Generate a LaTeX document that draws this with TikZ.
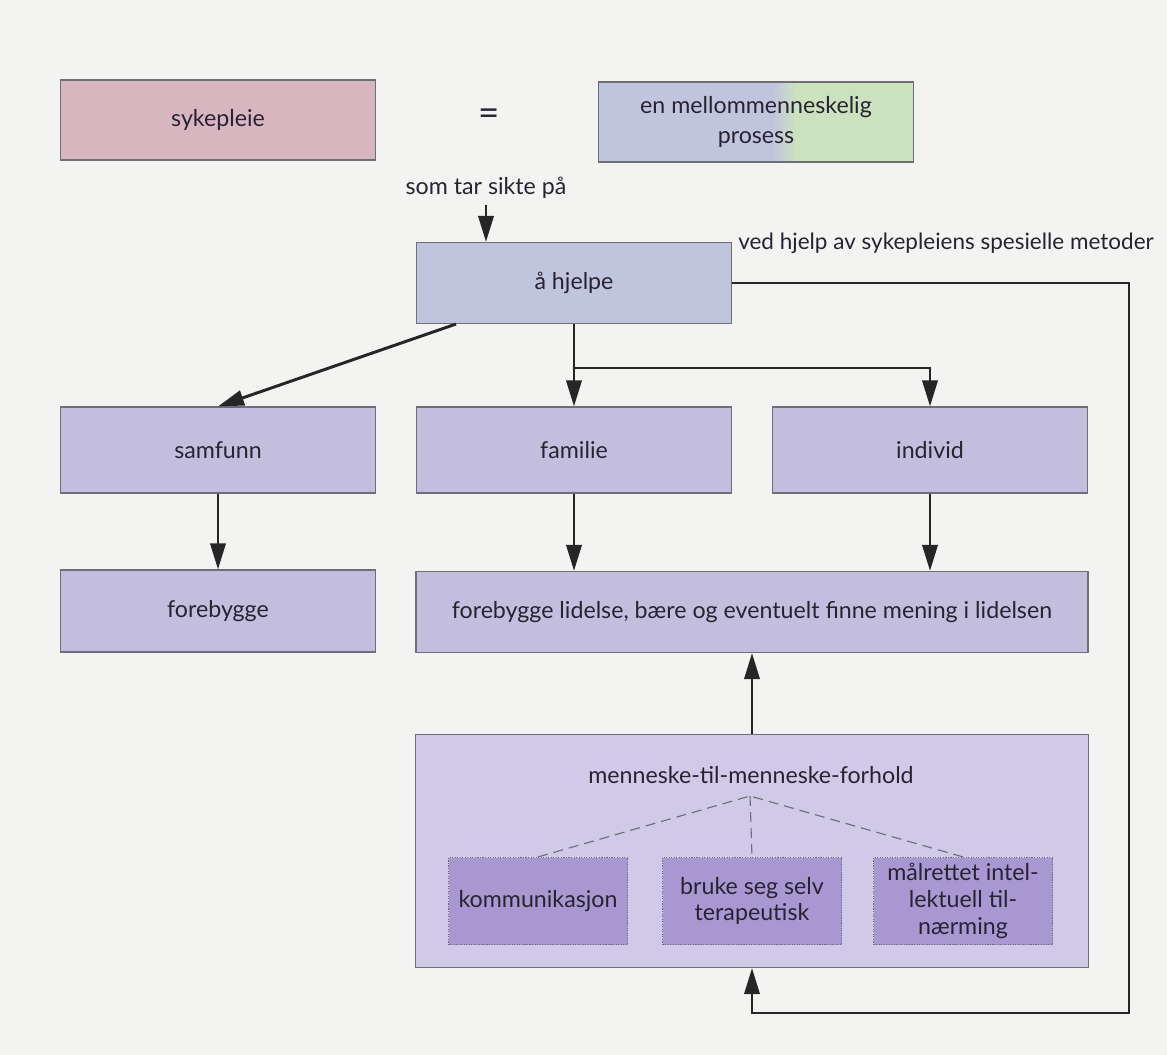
\documentclass[tikz,border=0pt]{standalone}
\usepackage{fontspec}
\setmainfont{Lato}
\usetikzlibrary{arrows.meta}
\definecolor{pagebg}{RGB}{243,243,241}
\definecolor{rosa}{RGB}{216,182,192}
\definecolor{blagra}{RGB}{192,197,222}
\definecolor{gronn}{RGB}{204,226,190}
\definecolor{lilla}{RGB}{196,190,222}
\definecolor{lyslilla}{RGB}{208,202,232}
\definecolor{mork}{RGB}{168,152,210}
\definecolor{kant}{RGB}{110,110,118}
\definecolor{tekst}{RGB}{40,35,50}

\begin{document}
\begin{tikzpicture}[x=.25mm,y=-.25mm,line width=2.1pt,>={Triangle[length=6.5mm,width=3.8mm]},
  font=\fontsize{16.5}{19}\selectfont,text=tekst,
  boks/.style={draw=kant,line width=.8pt,minimum width=78.75mm,minimum height=21.5mm,align=center},
  smal/.style={draw=kant,densely dotted,line width=.8pt,fill=mork,minimum width=44.75mm,minimum height=21.75mm,align=center,inner sep=.5mm},
  pil/.style={->,draw=black!85}]
\path[fill=pagebg,use as bounding box] (0,0) rectangle (1167,1055);
% top row
\node[boks,fill=rosa,minimum height=20mm] (syk) at (218,120) {sykepleie};
\node[font=\fontsize{26}{26}\selectfont] (lik) at (489,117) {=};
\node[boks,fill=blagra,minimum height=20mm,font=\fontsize{16.5}{21}\selectfont,path picture={
  \fill[gronn] ([xshift=10mm]path picture bounding box.north) rectangle (path picture bounding box.south east);
  \shade[left color=blagra,right color=gronn] ([xshift=4mm]path picture bounding box.north) rectangle ([xshift=10mm]path picture bounding box.south);}]
  (prosess) at (756,122) {en mellommenneskelig\\prosess};
\node (sikte) at (486,188) {som tar sikte på};
\node[boks,fill=blagra,minimum height=20.25mm] (hjelpe) at (574,283) {å hjelpe};
\node[font=\fontsize{16}{19}\selectfont] (metoder) at (946,243) {ved hjelp av sykepleiens spesielle metoder};
% middle rows
\node[boks,fill=lilla] (samfunn) at (218,450) {samfunn};
\node[boks,fill=lilla] (familie) at (574,450) {familie};
\node[boks,fill=lilla] (individ) at (930,450) {individ};
\node[boks,fill=lilla,minimum height=20.5mm] (forebygge) at (218,611) {forebygge};
\node[boks,fill=lilla,minimum width=168mm,minimum height=20.25mm] (lidelse) at (752,612)
  {forebygge lidelse, bære og eventuelt finne mening i lidelsen};
% lower box
\node[boks,fill=lyslilla,minimum width=168.25mm,minimum height=58.25mm] (menneske) at (752,851) {};
\node (forhold) at (751,775) {menneske-til-menneske-forhold};
\coordinate (topp) at (750,796);
\node[smal] (komm) at (538,901) {kommunikasjon};
\node[smal] (bruke) at (752,901) {bruke seg selv\\terapeutisk};
\node[smal] (maal) at (963,901) {målrettet intel-\\lektuell til-\\nærming};
% connectors
\draw[pil] (sikte.south) -- (sikte.south |- hjelpe.north);
\draw[pil] ([xshift=10mm]hjelpe.south west) -- (samfunn.north);
\draw[pil] (hjelpe) -- (familie);
\coordinate (gren) at (574,368);
\draw[pil] (gren) -| (individ.north);
\draw[pil] (samfunn) -- (forebygge);
\draw[pil] (familie) -- (familie |- lidelse.north);
\draw[pil] (individ) -- (individ |- lidelse.north);
\draw[pil] (menneske) -- (lidelse);
\coordinate (hjorne) at (1129,1013);
\draw[pil] (hjelpe.east) -| (hjorne) -| (menneske.south);
\draw[kant,line width=.8pt,dash pattern=on 2.5mm off 1.5mm] (komm.north) -- (topp) -- (maal.north) (topp) -- (bruke.north);
\end{tikzpicture}
\end{document}
